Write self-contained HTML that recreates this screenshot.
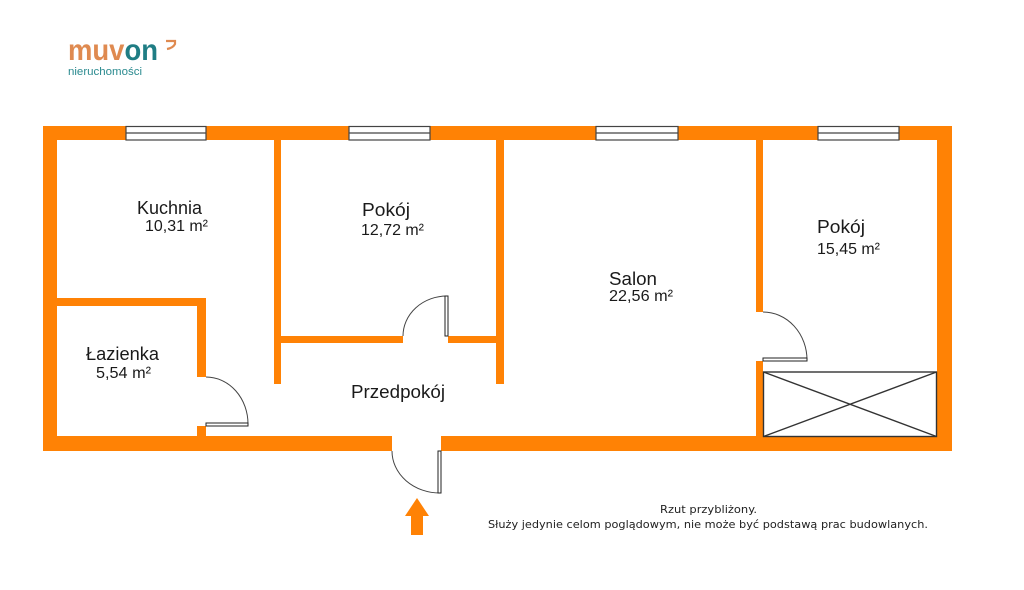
<!DOCTYPE html>
<html><head><meta charset="utf-8"><style>
html,body{margin:0;padding:0;background:#fff;}
svg{display:block;}
</style></head><body>
<svg width="1024" height="590" viewBox="0 0 1024 590" xmlns="http://www.w3.org/2000/svg">
<rect width="1024" height="590" fill="#fff"/>
<!-- logo -->
<text x="68" y="60" font-family="Liberation Sans, sans-serif" font-weight="bold" font-size="30" textLength="90" lengthAdjust="spacingAndGlyphs"><tspan fill="#df8a50">muv</tspan><tspan fill="#1f7d84">on</tspan></text>
<path d="M166,41 L175,41 L175,44 Q173,48 167,49" fill="none" stroke="#df8a50" stroke-width="2.2"/>
<text x="68" y="75" font-family="Liberation Sans, sans-serif" font-size="11" fill="#2a8a8f" textLength="74" lengthAdjust="spacingAndGlyphs">nieruchomości</text>

<!-- walls -->
<g fill="#ff8205">
<rect x="43" y="126" width="909" height="14"/>
<rect x="43" y="126" width="14" height="325"/>
<rect x="937" y="126" width="15" height="325"/>
<rect x="43" y="436" width="349" height="15"/>
<rect x="441" y="436" width="511" height="15"/>
<rect x="57" y="298" width="149" height="8"/>
<rect x="197" y="298" width="9" height="79"/>
<rect x="197" y="426" width="9" height="10"/>
<rect x="274" y="140" width="7" height="244"/>
<rect x="281" y="336" width="122" height="7"/>
<rect x="448" y="336" width="49" height="7"/>
<rect x="496" y="140" width="8" height="244"/>
<rect x="756" y="140" width="7" height="172"/>
<rect x="756" y="361" width="7" height="75"/>
</g>

<!-- windows -->
<g fill="#fff" stroke="#444" stroke-width="1.2">
<rect x="126" y="126.5" width="80" height="13.5"/>
<rect x="349" y="126.5" width="81" height="13.5"/>
<rect x="596" y="126.5" width="82" height="13.5"/>
<rect x="818" y="126.5" width="81" height="13.5"/>
<line x1="126" y1="133" x2="206" y2="133"/>
<line x1="349" y1="133" x2="430" y2="133"/>
<line x1="596" y1="133" x2="678" y2="133"/>
<line x1="818" y1="133" x2="899" y2="133"/>
</g>

<!-- doors -->
<g fill="none" stroke="#444" stroke-width="1">
<path d="M403,336 A44,40 0 0 1 447,296"/>
<path d="M206,377 A42,47 0 0 1 248,424"/>
<path d="M392,451 A48,42 0 0 0 440,493"/>
<path d="M763,312 A44,48 0 0 1 807,360"/>
</g>
<g fill="#fff" stroke="#222" stroke-width="1">
<rect x="445" y="296" width="3" height="40"/>
<rect x="206" y="423" width="42" height="3"/>
<rect x="438" y="451" width="3" height="42"/>
<rect x="763" y="358" width="44" height="3"/>
</g>

<!-- wardrobe -->
<g fill="none" stroke="#333" stroke-width="1.4">
<rect x="763.5" y="372" width="173" height="64.5"/>
<line x1="763.5" y1="372" x2="936.5" y2="436.5"/>
<line x1="763.5" y1="436.5" x2="936.5" y2="372"/>
</g>

<!-- arrow -->
<polygon points="417,498 429,516 423,516 423,535 411,535 411,516 405,516" fill="#ff8205"/>

<!-- labels -->
<g font-family="Liberation Sans, sans-serif" fill="#1a1a1a" lengthAdjust="spacingAndGlyphs">
<text x="137" y="214" font-size="18" textLength="65" lengthAdjust="spacingAndGlyphs">Kuchnia</text>
<text x="145" y="231" font-size="16" textLength="63" lengthAdjust="spacingAndGlyphs">10,31 m²</text>
<text x="362" y="216" font-size="18" textLength="48" lengthAdjust="spacingAndGlyphs">Pokój</text>
<text x="361" y="235" font-size="16" textLength="63" lengthAdjust="spacingAndGlyphs">12,72 m²</text>
<text x="609" y="285" font-size="18" textLength="48" lengthAdjust="spacingAndGlyphs">Salon</text>
<text x="609" y="301" font-size="16" textLength="64" lengthAdjust="spacingAndGlyphs">22,56 m²</text>
<text x="817" y="233" font-size="18" textLength="48" lengthAdjust="spacingAndGlyphs">Pokój</text>
<text x="817" y="254" font-size="16" textLength="63" lengthAdjust="spacingAndGlyphs">15,45 m²</text>
<text x="86" y="360" font-size="18" textLength="73" lengthAdjust="spacingAndGlyphs">Łazienka</text>
<text x="96" y="378" font-size="16" textLength="55" lengthAdjust="spacingAndGlyphs">5,54 m²</text>
<text x="351" y="398" font-size="18" textLength="94" lengthAdjust="spacingAndGlyphs">Przedpokój</text>
</g>

<!-- note -->
<g font-family="DejaVu Sans, Verdana, sans-serif" font-size="11" fill="#222">
<text x="660" y="513" textLength="97" lengthAdjust="spacingAndGlyphs">Rzut przybliżony.</text>
<text x="488" y="528" textLength="440" lengthAdjust="spacingAndGlyphs">Służy jedynie celom poglądowym, nie może być podstawą prac budowlanych.</text>
</g>
</svg>
</body></html>
